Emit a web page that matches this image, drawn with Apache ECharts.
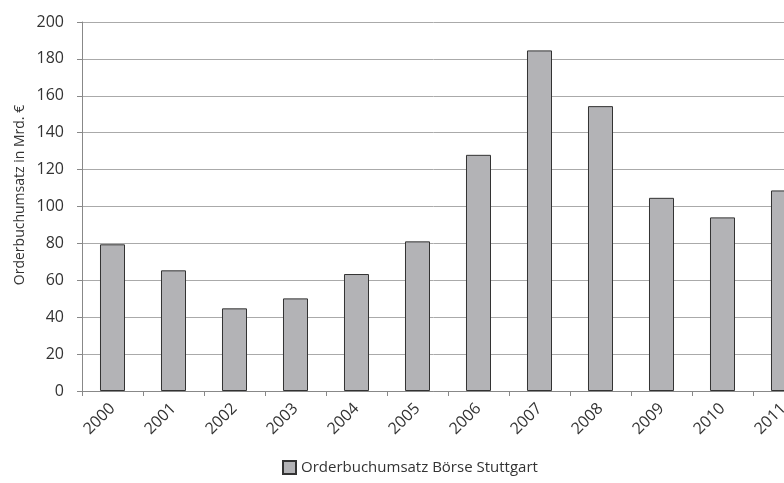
<!DOCTYPE html>
<html><head><meta charset="utf-8">
<script src="https://cdn.jsdelivr.net/npm/echarts@6/dist/echarts.min.js"></script>
<style>html,body{margin:0;padding:0;background:#fff}#c{width:784px;height:483px}</style>
</head><body><div id="c"></div>
<script>
const categories = ['2000','2001','2002','2003','2004','2005','2006','2007','2008','2009','2010','2011'];
const values = [79.5, 65.4, 44.8, 50.2, 63.4, 81.1, 128.0, 184.6, 154.4, 104.7, 94.1, 108.7];
const seriesName = 'Orderbuchumsatz Börse Stuttgart';
const yAxisTitle = 'Orderbuchumsatz in Mrd. €';
const FONT = 'Open Sans';
const chart = echarts.init(document.getElementById('c'), null, {renderer:'canvas'});
chart.setOption({
  animation:false,
  textStyle:{fontFamily:FONT},
  grid:{left:82, top:22, width:732, height:369, outerBoundsMode:'none'},
  legend:{
    data:[seriesName], left:277, top:455, itemWidth:13, itemHeight:13, itemGap:4,
    textStyle:{fontFamily:FONT, fontSize:15, color:'#333'},
    icon:'rect'
  },
  graphic:[{
    type:'text', x:20, y:195, rotation:Math.PI/2,
    style:{text:yAxisTitle, fontFamily:FONT, fontSize:14, fill:'#333', align:'center', verticalAlign:'middle'}
  }],
  xAxis:{
    type:'category', data:categories,
    axisLine:{lineStyle:{color:'#888', width:1}},
    axisTick:{show:true, length:5, alignWithLabel:false, lineStyle:{color:'#888'}},
    axisLabel:{rotate:45, fontSize:16, color:'#333', fontFamily:FONT, margin:15}
  },
  yAxis:{
    type:'value', min:0, max:200, interval:20,
    axisLine:{show:true, lineStyle:{color:'#888'}},
    axisTick:{show:true, length:5, lineStyle:{color:'#888'}},
    axisLabel:{fontSize:16, color:'#333', fontFamily:FONT, margin:18},
    splitLine:{lineStyle:{color:'#aaa', width:1}}
  },
  series:[{
    name:seriesName, type:'bar', data:values, barCategoryGap:'59%',
    itemStyle:{color:'#b3b3b6', borderColor:'#333', borderWidth:1}
  }]
});
</script></body></html>
